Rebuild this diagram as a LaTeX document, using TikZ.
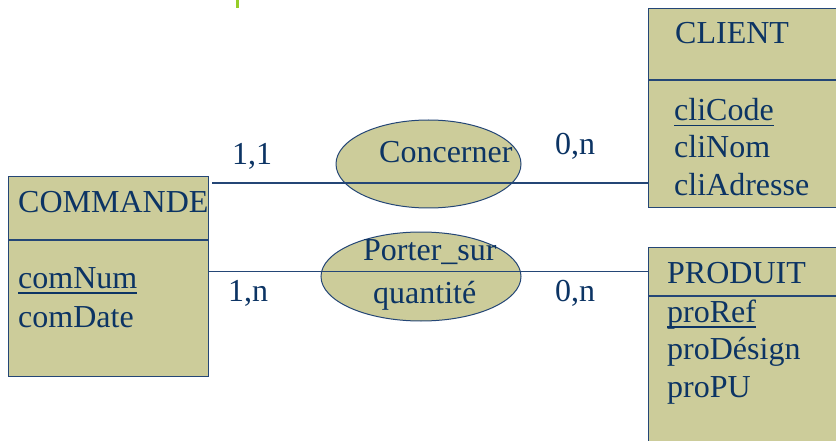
\documentclass[tikz,border=0pt]{standalone}
\usepackage{fontspec}
\setmainfont{Liberation Serif}
\usetikzlibrary{shapes.geometric}
\definecolor{boxc}{RGB}{204,204,154}
\definecolor{linec}{RGB}{36,70,118}
\definecolor{textc}{RGB}{12,52,100}
\definecolor{barc}{RGB}{150,205,40}
\newcommand\keyattr[1]{\setbox0\hbox{#1}\rlap{\rule[-5.5pt]{\wd0}{1.8pt}}\box0}

\begin{document}
\begin{tikzpicture}[x=1pt, y=-1pt
            , entity/.style={draw=linec, fill=boxc, line width=1.2pt, inner sep=0pt, anchor=north west},
            relation/.style={ellipse, draw=linec, fill=boxc, line width=1pt, inner sep=0pt},
            txt/.style={text=textc, inner sep=0pt, anchor=base west, font=\fontsize{32}{38}\selectfont},
            link/.style={draw=linec, line width=1.2pt}]
        \useasboundingbox (0,0) rectangle (836,441);
        \fill[barc] (236,0) rectangle (239,8);
        % entities
        \node[entity, minimum width=200, minimum height=200] (commande) at (8,176) {};
        \draw[draw=linec, line width=1.2pt] (8,240) -- (208,240);
        \node[entity, minimum width=200, minimum height=199] (client) at (648,8) {};
        \draw[draw=linec, line width=1.2pt] (648,80) -- (840,80);
        \node[entity, minimum width=200, minimum height=210] (produit) at (648,247) {};
        \draw[draw=linec, line width=1.2pt] (648,296) -- (840,296);
        \node[txt] (commandeName) at (18,212) {COMMANDE};
        \node[txt] (comNum) at (18,288) {\keyattr{comNum}};
        \node[txt] (comDate) at (18,327) {comDate};
        \node[txt] (clientName) at (675,44) {CLIENT};
        \node[txt] (cliCode) at (674,121) {\keyattr{cliCode}};
        \node[txt] (cliNom) at (674,158) {cliNom};
        \node[txt] (cliAdresse) at (674,196) {cliAdresse};
        \node[txt] (produitName) at (667,283) {PRODUIT};
        \node[txt] (proRef) at (667,322) {\keyattr{proRef}};
        \node[txt] (proDesign) at (667,359) {proDésign};
        \node[txt] (proPU) at (667,397) {proPU};
        % relations
        \node[relation, minimum width=185, minimum height=88] (concerner) at (428.5,164) {};
        \node[relation, minimum width=200, minimum height=89] (porterSur) at (421,276.5) {};
        \node[txt] (concernerName) at (379,163) {Concerner};
        \node[txt] (porterSurName) at (363,260) {Porter\_sur};
        \node[txt] (quantite) at (373,303) {quantité};
        % links
        \draw[link] ([shift={(3,7)}]commande.north east) -- ([yshift=-175pt]client.north west);
        \draw[link] ([yshift=-95.5pt]commande.north east) -- ([yshift=-24.5pt]produit.north west);
        \node[txt] (card11) at (232,165) {1,1};
        \node[txt] (card0n) at (555,155) {0,n};
        \node[txt] (card1n) at (228,301) {1,n};
        \node[txt] (card0nb) at (555,301) {0,n};
        \end{tikzpicture}
\end{document}
